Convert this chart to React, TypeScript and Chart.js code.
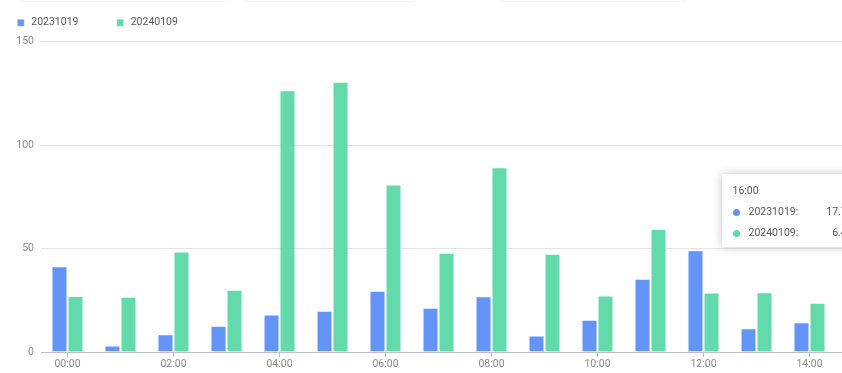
import React, { useEffect, useRef } from "react";
import { Chart, registerables } from "chart.js";

Chart.register(...registerables);

const categories = [
  "00:00", "01:00", "02:00", "03:00", "04:00", "05:00", "06:00", "07:00", "08:00",
  "09:00", "10:00", "11:00", "12:00", "13:00", "14:00", "15:00", "16:00",
];
const seriesALabel = "20231019";
const seriesBLabel = "20240109";
const seriesA = [41.4, 3.1, 8.6, 12.7, 18.1, 19.9, 29.6, 21.4, 26.9, 8.0, 15.6, 35.4, 49.1, 11.5, 14.4, null, 17.7];
const seriesB = [27.0, 26.7, 48.6, 30.1, 126.5, 130.5, 80.9, 48.0, 89.2, 47.5, 27.3, 59.4, 28.8, 28.9, 23.8, null, 6.4];
const yMin = 0;
const yMax = 150;
const yStep = 50;
const tooltipCategory = "16:00";

const colorA = "rgba(91,143,249,0.95)";
const colorB = "rgba(90,216,166,0.95)";
const FONT = "Roboto";
const FS = 10.5;
const LEGEND_BLOCK_HEIGHT = 60.5;

const legendSpacer = {
  id: "legendSpacer",
  beforeInit(chart: any) {
    const legend = chart.legend;
    if (!legend) return;
    const origFit = legend.fit;
    legend.fit = function () {
      origFit.call(this);
      this.height = LEGEND_BLOCK_HEIGHT;
    };
  },
};

export default function App() {
  const canvasRef = useRef<HTMLCanvasElement | null>(null);
  const tipRef = useRef<HTMLDivElement | null>(null);

  useEffect(() => {
    const canvas = canvasRef.current;
    if (!canvas) return;
    const chart = new Chart(canvas, {
      type: "bar",
      data: {
        labels: categories,
        datasets: [
          { label: seriesALabel, data: seriesA, backgroundColor: colorA, borderColor: "rgba(255,255,255,0.35)", borderWidth: 1 },
          { label: seriesBLabel, data: seriesB, backgroundColor: colorB, borderColor: "rgba(255,255,255,0.35)", borderWidth: 1 },
        ],
      },
      plugins: [legendSpacer],
      options: {
        animation: false,
        responsive: true,
        maintainAspectRatio: false,
        events: [],
        layout: { padding: { left: 0, right: 0, top: 0, bottom: 0.4 } },
        datasets: { bar: { categoryPercentage: 0.604, barPercentage: 1 } },
        scales: {
          x: {
            afterBuildTicks: (scale: any) => {
              scale.ticks = scale.ticks.filter((t: any) => t.value % 2 === 0);
            },
            ticks: { autoSkip: false, maxRotation: 0, padding: 1, color: "#8c8c8c", font: { family: FONT, size: FS } },
            grid: { display: true, drawOnChartArea: false, drawTicks: true, tickLength: 5, color: "#bfbfbf", offset: false },
            border: { display: true, color: "#bfbfbf", width: 1 },
          },
          y: {
            min: yMin,
            max: yMax,
            afterFit: (scale: any) => { scale.width = 62; },
            ticks: { stepSize: yStep, padding: 7, color: "#8c8c8c", font: { family: FONT, size: FS } },
            grid: { color: "#e3e3e3", drawTicks: false },
            border: { display: false },
          },
        },
        plugins: {
          legend: {
            position: "top",
            align: "start",
            labels: {
              usePointStyle: true,
              pointStyle: "rect",
              boxWidth: 10.5,
              boxHeight: 7,
              padding: 36.5,
              color: "#595959",
              font: { family: FONT, size: FS },
            },
          },
          tooltip: {
            enabled: false,
            mode: "index",
            intersect: false,
            external: (context: any) => {
              const { chart: c, tooltip } = context;
              const el = tipRef.current;
              if (!el) return;
              if (tooltip.opacity === 0 || !tooltip.dataPoints || !tooltip.dataPoints.length) {
                el.style.display = "none";
                return;
              }
              el.innerHTML = "";
              const title = document.createElement("div");
              title.textContent = (tooltip.title && tooltip.title[0]) || "";
              title.style.lineHeight = "12px";
              title.style.height = "12px";
              title.style.marginBottom = "9px";
              el.appendChild(title);
              tooltip.dataPoints.forEach((dp: any, i: number) => {
                const row = document.createElement("div");
                row.style.display = "flex";
                row.style.alignItems = "center";
                row.style.lineHeight = "12px";
                row.style.height = "12px";
                row.style.marginBottom = i === tooltip.dataPoints.length - 1 ? "0" : "9px";
                const dot = document.createElement("span");
                dot.style.width = "7px";
                dot.style.height = "7px";
                dot.style.borderRadius = "50%";
                dot.style.background = dp.dataset.backgroundColor;
                dot.style.marginRight = "9px";
                dot.style.flex = "0 0 auto";
                const name = document.createElement("span");
                name.textContent = dp.dataset.label + ":";
                name.style.flex = "1 1 auto";
                const val = document.createElement("span");
                val.textContent = dp.formattedValue;
                val.style.marginLeft = "28px";
                row.appendChild(dot);
                row.appendChild(name);
                row.appendChild(val);
                el.appendChild(row);
              });
              const idx = tooltip.dataPoints[0].dataIndex;
              const cx = c.scales.x.getPixelForValue(idx);
              el.style.display = "block";
              el.style.left = cx - 194 + "px";
              el.style.top = c.chartArea.top + 132.5 + "px";
            },
          },
        },
      },
    });
    const ti = categories.indexOf(tooltipCategory);
    chart.tooltip?.setActiveElements(
      [
        { datasetIndex: 0, index: ti },
        { datasetIndex: 1, index: ti },
      ],
      { x: chart.scales.x.getPixelForValue(ti), y: chart.chartArea.top }
    );
    chart.update();
    return () => chart.destroy();
  }, []);

  const topLines = [
    { left: 20, width: 210 },
    { left: 245, width: 170 },
    { left: 500, width: 185 },
  ];

  return (
    <div style={{ position: "fixed", left: 0, top: 0, width: 842, height: 373, overflow: "hidden", background: "#fff" }}>
      {topLines.map((l, i) => (
        <div key={i} style={{ position: "absolute", top: -4, left: l.left, width: l.width, height: 5, borderRadius: 3, background: "#fff", boxShadow: "0 0 2px rgba(0,0,0,0.12)" }} />
      ))}
      <div style={{ position: "absolute", left: -21, top: -19, width: 963, height: 391 }}>
        <canvas ref={canvasRef} />
        <div
          ref={tipRef}
          style={{
            position: "absolute",
            display: "none",
            background: "rgba(255,255,255,0.96)",
            borderRadius: 3,
            boxShadow: "0px 0px 10px rgba(174,174,174,0.75)",
            padding: "11px 12px 8px 11px",
            fontFamily: FONT,
            fontSize: FS,
            color: "#595959",
            whiteSpace: "nowrap",
            pointerEvents: "none",
          }}
        />
      </div>
    </div>
  );
}
